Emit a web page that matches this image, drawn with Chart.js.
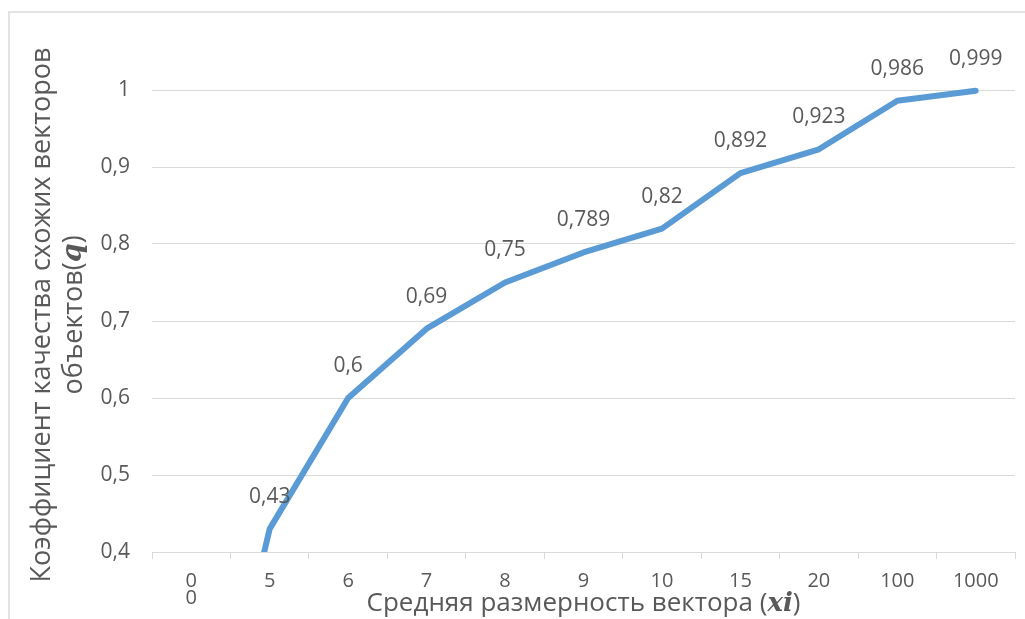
<!DOCTYPE html>
<html>
<head>
<meta charset="utf-8">
<script src="https://cdn.jsdelivr.net/npm/chart.js@4.4.1/dist/chart.umd.min.js"></script>
<style>
  body { margin: 0; background: #fff; }
  #wrap { width: 1025px; height: 619px; }
</style>
</head>
<body>
<div id="wrap"><canvas id="qChart" width="1025" height="619"></canvas></div>
<script>
// chart data
const categories = [["0", "0"], "5", "6", "7", "8", "9", "10", "15", "20", "100", "1000"];
const quality = [0, 0.43, 0.6, 0.69, 0.75, 0.789, 0.82, 0.892, 0.923, 0.986, 0.999];
const yMin = 0.4;
const yMax = 1;
const yStep = 0.1;

const textColor = '#595959';
const gridColor = '#d9d9d9';
const fontFamily = "'Open Sans', 'Liberation Sans', sans-serif";

// comma as decimal separator, like the original
function fmt(v) {
    return String(Math.round(v * 1000) / 1000).replace('.', ',');
}

// draws a list of [text, font] runs centred on (x, y)
function drawRuns(ctx, runs, x, y) {
    let total = 0;
    runs.forEach(r => { ctx.font = r[1]; total += ctx.measureText(r[0]).width; });
    let cx = x - total / 2;
    ctx.textAlign = 'left';
    ctx.textBaseline = 'middle';
    runs.forEach(r => {
        ctx.font = r[1];
        ctx.fillText(r[0], cx, y);
        cx += ctx.measureText(r[0]).width;
    });
}

const frameAndTitles = {
    id: 'frameAndTitles',
    beforeDraw(chart) {
        const ctx = chart.ctx;
        ctx.save();
        ctx.strokeStyle = '#e3e3e3';
        ctx.lineWidth = 2;
        ctx.beginPath();
        ctx.moveTo(9, 619);
        ctx.lineTo(9, 12);
        ctx.lineTo(1025, 12);
        ctx.stroke();
        ctx.restore();
    },
    afterDraw(chart) {
        const ctx = chart.ctx;
        const area = chart.chartArea;
        const xPlain = "26px " + fontFamily;
        const xMath = "bold italic 26px 'DejaVu Serif', 'Liberation Serif', serif";
        const yPlain = "27px " + fontFamily;
        const yMath = "bold italic 27px 'DejaVu Serif', 'Liberation Serif', serif";
        ctx.save();
        ctx.fillStyle = textColor;
        // x axis title
        drawRuns(ctx, [["Средняя размерность вектора (", xPlain], ["xi", xMath], [")", xPlain]],
            (area.left + area.right) / 2, 604);
        // y axis title, two lines
        ctx.translate(0, 315);
        ctx.rotate(-Math.PI / 2);
        drawRuns(ctx, [["Коэффициент качества схожих векторов", yPlain]], 0, 42);
        drawRuns(ctx, [["объектов(", yPlain], ["q", yMath], [")", yPlain]], 0, 74);
        ctx.restore();
    }
};

const pointLabels = {
    id: 'pointLabels',
    afterDatasetsDraw(chart) {
        const ctx = chart.ctx;
        const meta = chart.getDatasetMeta(0);
        ctx.save();
        ctx.fillStyle = textColor;
        ctx.font = "21px " + fontFamily;
        ctx.textAlign = 'center';
        ctx.textBaseline = 'middle';
        meta.data.forEach((pt, i) => {
            const v = quality[i];
            if (v < yMin) return;
            ctx.fillText(fmt(v), pt.x, pt.y - 32);
        });
        ctx.restore();
    }
};

new Chart(document.getElementById('qChart'), {
    type: 'line',
    data: {
        labels: categories,
        datasets: [{
            data: quality,
            borderColor: '#5b9bd5',
            borderWidth: 6,
            borderCapStyle: 'round',
            borderJoinStyle: 'round',
            pointRadius: 0,
            tension: 0,
            fill: false,
            clip: { left: 0, right: 10, top: 10, bottom: 0 }
        }]
    },
    options: {
        responsive: false,
        animation: false,
        layout: { padding: { left: 0, right: 10, top: 90, bottom: 0 } },
        plugins: {
            legend: { display: false },
            tooltip: { enabled: false }
        },
        scales: {
            x: {
                offset: true,
                grid: {
                    offset: true,
                    drawOnChartArea: false,
                    color: gridColor,
                    tickLength: 7
                },
                border: { display: true, color: gridColor, width: 1 },
                ticks: {
                    color: textColor,
                    font: { family: fontFamily, size: 20, lineHeight: 0.85 },
                    padding: 14,
                    maxRotation: 0,
                    autoSkip: false
                },
                afterFit(scale) { scale.height = 67; }
            },
            y: {
                min: yMin,
                max: yMax,
                grid: { color: gridColor, drawTicks: false },
                border: { display: false },
                ticks: {
                    stepSize: yStep,
                    color: textColor,
                    font: { family: fontFamily, size: 21 },
                    padding: 22,
                    callback: v => fmt(v)
                },
                afterFit(scale) { scale.width = 152; }
            }
        }
    },
    plugins: [frameAndTitles, pointLabels]
});
</script>
</body>
</html>
